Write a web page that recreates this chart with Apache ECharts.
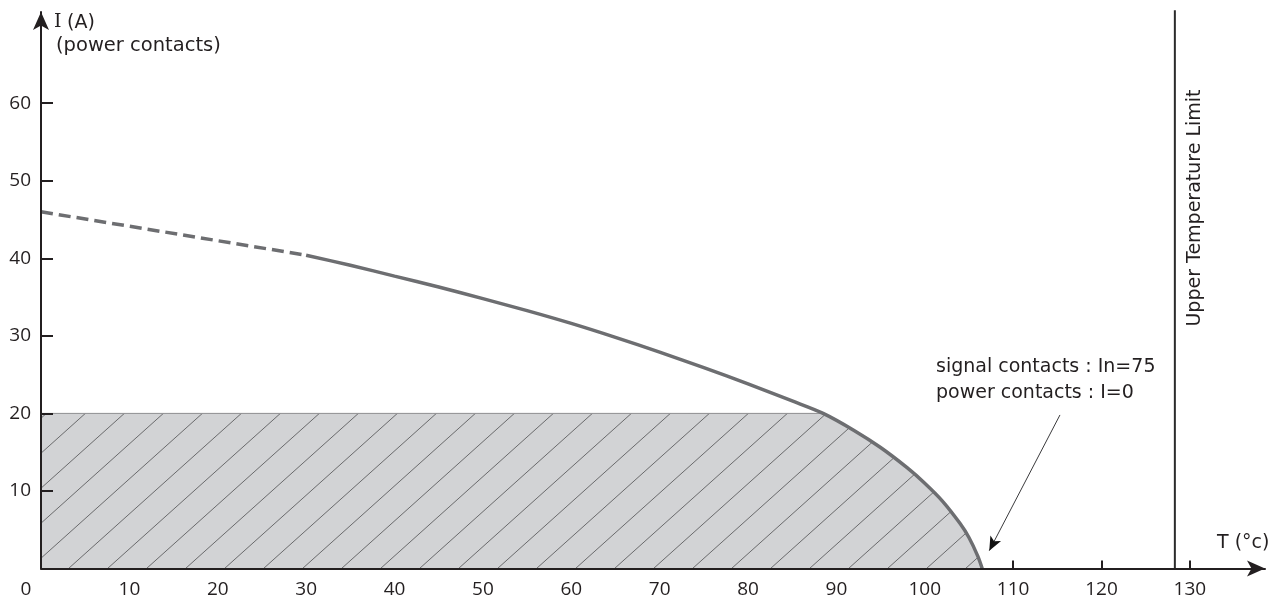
<!DOCTYPE html>
<html>
<head>
<meta charset="utf-8">
<script src="https://cdn.jsdelivr.net/npm/echarts@6/dist/echarts.min.js"></script>
<style>
html,body{margin:0;padding:0;background:#fff;}
#c{width:1275px;height:600px;}
</style>
</head>
<body>
<div id="c"></div>
<script>
// ---- data ----
const xLabelValues = [0,10,20,30,40,50,60,70,80,90,100,110,120,130];
const xTickValues = [110,120,130];
const yLabelValues = [10,20,30,40,50,60];
// dashed (extrapolated) part of the derating curve
const dashT = [0, 30];
const dashI = [46, 40.4];
// solid derating curve
const curveT = [30, 35, 40, 45, 50, 55, 60, 65, 70, 75, 80, 85, 88.5, 92, 95, 98, 100, 102, 104, 105, 106, 106.5];
const curveI = [40.4, 39.1, 37.7, 36.3, 34.8, 33.25, 31.6, 29.8, 27.9, 25.9, 23.8, 21.6, 20.0, 17.8, 15.6, 13.0, 11.0, 8.7, 5.8, 4.0, 1.6, 0];
// admissible (hatched) region cap
const capI = 20;
// upper temperature limit
const upperLimitT = 128.3;
const upperLineI = [0, 72];
// annotation arrow (from text to curve end)
const arrowFrom = [115.3, 19.8];
const arrowHead = [107.3, 2.3];

// ---- helpers ----
function pairs(xs, ys){ return xs.map((x,i)=>[x, ys[i]]); }
const curveData = pairs(curveT, curveI);
const areaData = [[0, capI]].concat(curveData.filter(p => p[0] >= 88.5).map(p => [p[0], Math.min(p[1], capI)]));

function makeHatch(){
  const W = 39, H = 35;
  const c = document.createElement('canvas');
  c.width = W; c.height = H;
  const g = c.getContext('2d');
  g.fillStyle = '#d2d3d5';
  g.fillRect(0, 0, W, H);
  g.strokeStyle = '#4f4f51';
  g.lineWidth = 0.8;
  g.beginPath();
  for (let k = 0; k <= 2; k++) {
    g.moveTo(W * (k + 1), -H);
    g.lineTo(W * (k - 2), 2 * H);
  }
  g.stroke();
  return c;
}

const axisColor = '#231f20';
const curveColor = '#6d6e71';
const txtFont = '"DejaVu Sans", sans-serif';
const numFont = '"Open Sans", sans-serif';

const chart = echarts.init(document.getElementById('c'));
chart.setOption({
  animation: false,
  grid: { left: 41, right: 10, top: 12, bottom: 31.5, containLabel: false },
  xAxis: {
    type: 'value', min: 0, max: 138.5, interval: 10, z: 5,
    axisLine: { show: true, onZero: false, symbol: ['none', 'arrow'], symbolSize: [12, 18],
      lineStyle: { color: axisColor, width: 2 } },
    axisTick: { show: true, inside: true, length: 8, customValues: xTickValues,
      lineStyle: { color: axisColor, width: 2 } },
    axisLabel: { customValues: xLabelValues, margin: 12, color: axisColor,
      fontFamily: numFont, fontSize: 19,
      formatter: v => v === 0 ? '{z|0}' : String(v),
      rich: { z: { padding: [0, 30, 0, 0], fontFamily: numFont, fontSize: 19, color: axisColor } } },
    splitLine: { show: false }
  },
  yAxis: {
    type: 'value', min: 0, max: 71.76, interval: 10, z: 5,
    axisLine: { show: true, onZero: false, symbol: ['none', 'arrow'], symbolSize: [12, 18],
      lineStyle: { color: axisColor, width: 2 } },
    axisTick: { show: true, inside: true, length: 12, customValues: yLabelValues,
      lineStyle: { color: axisColor, width: 2 } },
    axisLabel: { customValues: yLabelValues, margin: 10, color: axisColor,
      fontFamily: numFont, fontSize: 19, padding: [0, 0, 6, 0] },
    splitLine: { show: false }
  },
  series: [
    {
      name: 'hatched', type: 'line', data: areaData, symbol: 'none', silent: true, z: 2,
      lineStyle: { color: '#8e8e90', width: 1 },
      areaStyle: { color: { image: makeHatch(), repeat: 'repeat' }, opacity: 1 }
    },
    {
      name: 'dashed', type: 'line', data: pairs(dashT, dashI), symbol: 'none', silent: true, z: 3,
      lineStyle: { color: curveColor, width: 3.5, type: [12, 6] }
    },
    {
      name: 'curve', type: 'line', data: curveData, symbol: 'none', silent: true, z: 3,
      smooth: 0.3,
      lineStyle: { color: curveColor, width: 3.5 },
      markLine: {
        silent: true, symbol: ['none', 'none'],
        label: { show: false },
        lineStyle: { color: '#3a3a3c', width: 1, type: 'solid' },
        data: [[{ coord: arrowFrom }, { coord: arrowHead }]]
      },
      markPoint: {
        silent: true,
        symbol: 'arrow', symbolSize: [9, 14], symbolRotate: 152.5,
        itemStyle: { color: '#111111' },
        label: { show: false },
        data: [{ coord: arrowHead }]
      }
    },
    {
      name: 'upper limit', type: 'line', clip: false, symbol: 'none', silent: true, z: 3,
      data: [[upperLimitT, upperLineI[0]], [upperLimitT, upperLineI[1]]],
      lineStyle: { color: '#2b2b2b', width: 2 }
    }
  ],
  graphic: [
    { type: 'text', x: 54, y: 22, style: { text: 'I', font: '19px "DejaVu Serif", serif', fill: axisColor, textAlign: 'left', textVerticalAlign: 'middle' } },
    { type: 'text', x: 67, y: 23, style: { text: '(A)', font: '19px ' + txtFont, fill: axisColor, textAlign: 'left', textVerticalAlign: 'middle' } },
    { type: 'text', x: 56, y: 46, style: { text: '(power contacts)', font: '19.5px ' + txtFont, fill: axisColor, textAlign: 'left', textVerticalAlign: 'middle' } },
    { type: 'text', x: 1217, y: 543, style: { text: 'T (°c)', font: '19px ' + txtFont, fill: axisColor, textAlign: 'left', textVerticalAlign: 'middle' } },
    { type: 'text', x: 1195, y: 208, rotation: Math.PI / 2, style: { text: 'Upper Temperature Limit', font: '19px ' + txtFont, fill: axisColor, textAlign: 'center', textVerticalAlign: 'middle' } },
    { type: 'text', x: 936, y: 367, style: { text: 'signal contacts : In=75', font: '19px ' + txtFont, fill: axisColor, textAlign: 'left', textVerticalAlign: 'middle' } },
    { type: 'text', x: 936, y: 393, style: { text: 'power contacts : I=0', font: '19px ' + txtFont, fill: axisColor, textAlign: 'left', textVerticalAlign: 'middle' } }
  ]
});
</script>
</body>
</html>
